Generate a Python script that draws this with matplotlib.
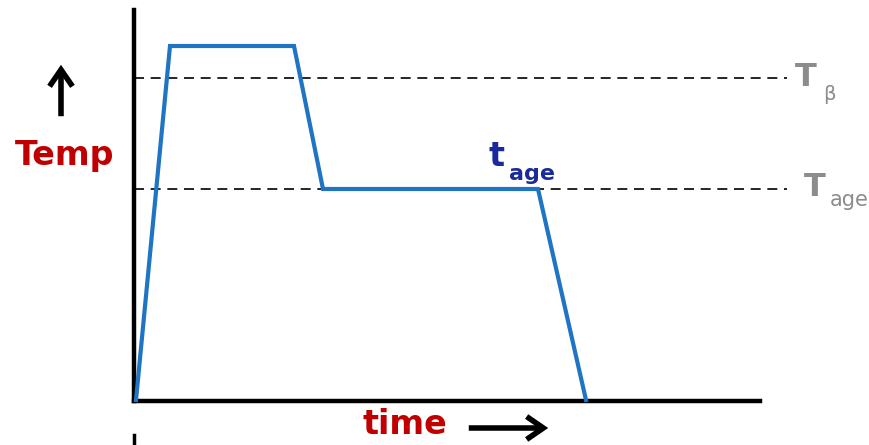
import matplotlib
matplotlib.use("Agg")
import matplotlib.pyplot as plt

# Schematic heat-treatment profile (arbitrary units)
time = [2, 36, 160, 189, 404, 452]
temp = [1, 355, 355, 212, 212, 1]
T_beta = 323
T_age = 212
x_max = 626
y_max = 391

fig = plt.figure(figsize=(8.7, 4.45), dpi=100)
ax = fig.add_axes([134/870, 44/445, 626/870, 391/445])
ax.set_xlim(0, x_max)
ax.set_ylim(0, y_max)
for s in ["top", "right"]:
    ax.spines[s].set_visible(False)
for s in ["left", "bottom"]:
    ax.spines[s].set_linewidth(3.2)
    ax.spines[s].set_color("black")
ax.set_xticks([])
ax.set_yticks([])

# dashed reference lines
for lvl in (T_beta, T_age):
    ax.plot([0, 653], [lvl, lvl], ls=(0, (6, 4)), color="black", lw=1.2, clip_on=False, zorder=1)

ax.plot(time, temp, color="#1f74c4", lw=3.0, solid_joinstyle="miter", clip_on=False, zorder=3)

font = "DejaVu Sans"
# labels
fig.text(65/870, 1 - 156/445, "Temp", color="#c00000", fontsize=24, fontweight="bold",
         family=font, ha="center", va="center")
fig.text(405/870, 1 - 424/445, "time", color="#c00000", fontsize=24, fontweight="bold",
         family=font, ha="center", va="center")

# arrows
fig.add_artist(matplotlib.patches.FancyArrowPatch((61/870, 1 - 119/445), (61/870, 1 - 62/445),
               transform=fig.transFigure, arrowstyle="->,head_length=8,head_width=5.5",
               color="black", lw=4, mutation_scale=1.5, joinstyle="miter", capstyle="butt"))
fig.add_artist(matplotlib.patches.FancyArrowPatch((466/870, 1 - 428/445), (551/870, 1 - 428/445),
               transform=fig.transFigure, arrowstyle="->,head_length=8,head_width=5.5",
               color="black", lw=4, mutation_scale=1.5, joinstyle="miter", capstyle="butt"))

# t_age annotation
fig.text(497/870, 1 - 157/445, "t", color="#1a2a9a", fontsize=24, fontweight="bold",
         family=font, ha="center", va="center")
fig.text(532/870, 1 - 174/445, "age", color="#1a2a9a", fontsize=16, fontweight="bold",
         family=font, ha="center", va="center")

# T labels
gray = "#8c8c8c"
fig.text(806/870, 1 - 78/445, "T", color=gray, fontsize=23, fontweight="bold", family=font, ha="center", va="center")
fig.text(829/870, 1 - 95/445, "β", color=gray, fontsize=14, family=font, ha="center", va="center")
fig.text(815/870, 1 - 187/445, "T", color=gray, fontsize=23, fontweight="bold", family=font, ha="center", va="center")
fig.text(849/870, 1 - 200/445, "age", color=gray, fontsize=15, family=font, ha="center", va="center")

# small tick under the axis origin
fig.add_artist(matplotlib.lines.Line2D([134/870, 134/870], [0, 10/445], color="black", lw=2.5))

fig.savefig("out.png", dpi=100)
